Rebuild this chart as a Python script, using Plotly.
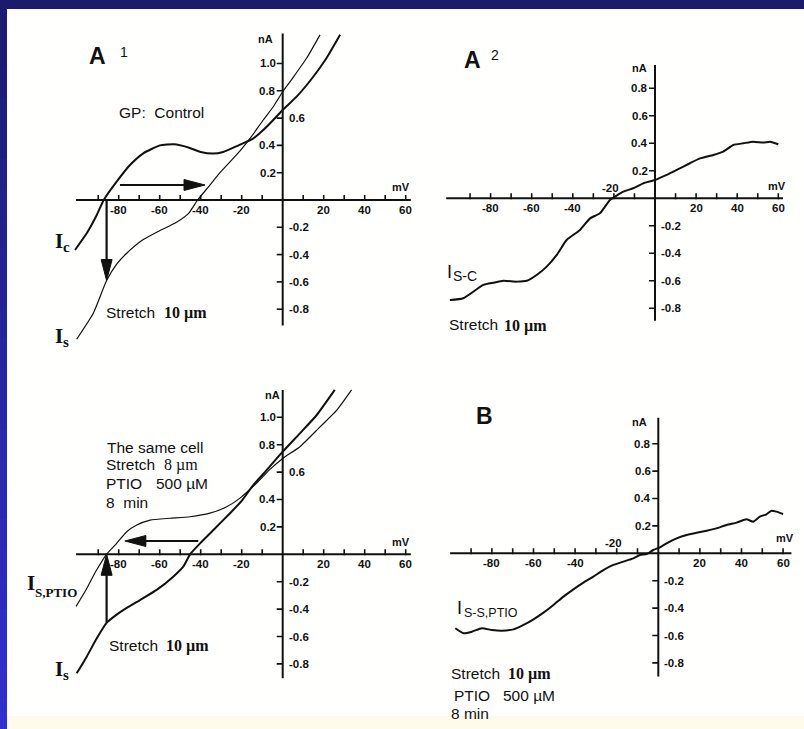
import plotly.graph_objects as go

W, H = 804, 729

# ------------------------------------------------------------------ data
# Panel A1 (top-left): control and stretch currents
A1_IC_MV = [-101.3, -95.6, -90.7, -87.3, -81.0, -74.5, -68.0, -59.9, -53.0, -46.0, -40.0,
            -34.0, -29.0, -22.4, -14.3, -7.8, 0.0, 6.8, 14.9, 21.4, 28.0]
A1_IC_NA = [-0.366, -0.244, -0.11, 0.0, 0.134, 0.256, 0.342, 0.40, 0.408, 0.385, 0.352,
            0.34, 0.352, 0.395, 0.452, 0.537, 0.659, 0.757, 0.903, 1.04, 1.21]
A1_IS_MV = [-100.5, -92.4, -85.9, -81.0, -76.1, -68.0, -60.0, -52.0, -46.0, -41.5, -36.0,
            -30.6, -20.8, -15.3, -9.5, -4.6, 0.0, 5.2, 11.7, 18.2]
A1_IS_NA = [-1.02, -0.83, -0.59, -0.47, -0.39, -0.29, -0.225, -0.165, -0.10, 0.0, 0.10,
            0.20, 0.36, 0.464, 0.586, 0.683, 0.793, 0.90, 1.04, 1.21]

# Panel A2 (top-right): difference current I(S-C)
A2_MV = [-99.8, -93.3, -83.5, -78.7, -73.8, -67.3, -62.4, -57.6, -52.7, -47.8, -43.0,
         -36.5, -31.6, -26.8, -21.9, -15.4, -10.6, -5.7, 0.0, 5.7, 10.6, 17.0, 21.9,
         28.4, 33.2, 38.1, 43.0, 47.8, 52.7, 56.0, 60.0]
A2_NA = [-0.74, -0.727, -0.63, -0.614, -0.60, -0.606, -0.60, -0.558, -0.497, -0.412, -0.303,
         -0.23, -0.146, -0.109, -0.012, 0.048, 0.073, 0.109, 0.133, 0.17, 0.206, 0.255, 0.29,
         0.315, 0.339, 0.388, 0.40, 0.412, 0.405, 0.412, 0.393]

# Panel C (bottom-left): same cell with PTIO
C_IS_MV = [-100.5, -95.6, -90.7, -85.9, -81.0, -77.8, -69.6, -61.5, -53.4, -48.5, -45.2,
           -40.3, -33.8, -25.7, -20.0, -14.3, -7.8, 0.0, 8.4, 16.5, 25.4]
C_IS_NA = [-0.869, -0.747, -0.613, -0.50, -0.44, -0.407, -0.334, -0.26, -0.163, -0.09, 0.0,
           0.08, 0.177, 0.30, 0.39, 0.506, 0.615, 0.749, 0.883, 1.015, 1.20]
C_PTIO_MV = [-100.8, -96.0, -91.0, -85.9, -81.0, -76.1, -71.2, -64.7, -55.0, -45.2, -35.5,
             -27.3, -20.8, -12.7, -6.2, 0.0, 8.4, 18.2, 26.3, 33.6]
C_PTIO_NA = [-0.38, -0.26, -0.12, 0.0, 0.08, 0.165, 0.214, 0.25, 0.263, 0.274, 0.30,
             0.347, 0.41, 0.52, 0.62, 0.70, 0.785, 0.93, 1.05, 1.20]

# Panel B (bottom-right): difference current I(S-S,PTIO)
B_MV = [-97.6, -93.6, -89.6, -84.8, -80.0, -75.2, -69.6, -64.8, -60.0, -55.2, -50.4, -45.6,
        -40.8, -36.0, -31.2, -26.4, -21.6, -16.8, -12.0, -8.8, -5.6, -2.4, 0.8, 4.0, 8.8,
        13.6, 18.4, 23.2, 28.0, 32.8, 37.6, 42.4, 45.6, 48.8, 52.0, 54.4, 56.8, 60.0]
B_NA = [-0.547, -0.584, -0.572, -0.547, -0.56, -0.565, -0.555, -0.523, -0.482, -0.433, -0.377,
        -0.316, -0.263, -0.214, -0.17, -0.122, -0.085, -0.061, -0.037, -0.012, -0.005, 0.024,
        0.044, 0.073, 0.109, 0.134, 0.15, 0.165, 0.182, 0.207, 0.224, 0.248, 0.231, 0.267,
        0.285, 0.311, 0.304, 0.287]

# arrows: (tail mV, tail nA, tip mV, tip nA)
A1_ARROWS = [(-79.4, 0.11, -37.9, 0.11), (-85.9, 0.0, -85.9, -0.59)]
C_ARROWS = [(-41.2, 0.097, -77.0, 0.097), (-85.9, -0.50, -85.9, 0.0)]

# ticks
X_MINOR_TICKS = [-90, -80, -70, -60, -50, -40, -30, -20, -10, 10, 20, 30, 40, 50, 60]
X_TICK_LABELS = [-80, -60, -40, -20, 20, 40, 60]
Y_TICKS_LEFT_PANELS = [1.0, 0.8, 0.6, 0.4, 0.2, -0.2, -0.4, -0.6, -0.8]
Y_TICKS_RIGHT_PANELS = [0.8, 0.6, 0.4, 0.2, -0.2, -0.4, -0.6, -0.8]

# ------------------------------------------------------------------ layout helpers
SANS = "Liberation Sans, Arial, sans-serif"
SERIF = "Liberation Serif, Times New Roman, serif"
INK = "#111111"

panels = [
    dict(n=1, ox=282.7, oy=200.0, sx=2.05, sy=136.5, xr=[-106, 66], yr=[-1.12, 1.32],
         xext=[-100.8, 62.5], yext=[-0.92, 1.22], yright=[0.6], xabove=[], yticks=Y_TICKS_LEFT_PANELS),
    dict(n=2, ox=655.0, oy=198.3, sx=2.055, sy=137.5, xr=[-104, 66], yr=[-1.0, 1.05],
         xext=[-101.6, 62.3], yext=[-0.89, 0.97], yright=[], xabove=[-20], yticks=Y_TICKS_RIGHT_PANELS),
    dict(n=3, ox=282.7, oy=554.3, sx=2.05, sy=137.0, xr=[-106, 66], yr=[-1.0, 1.25],
         xext=[-100.8, 62.5], yext=[-0.905, 1.20], yright=[0.6], xabove=[], yticks=Y_TICKS_LEFT_PANELS),
    dict(n=4, ox=658.3, oy=553.3, sx=2.08, sy=137.0, xr=[-102, 64], yr=[-0.95, 1.0],
         xext=[-100.1, 64.5], yext=[-0.90, 0.99], yright=[], xabove=[-20], yticks=Y_TICKS_RIGHT_PANELS),
]


def px(x):
    return x / W


def py(y):
    return 1 - y / H


fig = go.Figure()
layout = dict(
    width=W, height=H, margin=dict(l=0, r=0, t=0, b=0),
    paper_bgcolor="#fffffd", plot_bgcolor="rgba(0,0,0,0)", showlegend=False,
)
shapes = []
annotations = []
TICK_FONT = dict(family=SANS, size=11.5, color=INK, weight="bold")

for p in panels:
    n = p["n"]
    xs = "" if n == 1 else str(n)
    x0 = (p["ox"] + p["sx"] * p["xr"][0]) / W
    x1 = (p["ox"] + p["sx"] * p["xr"][1]) / W
    ybot = 1 - (p["oy"] - p["sy"] * p["yr"][0]) / H
    ytop = 1 - (p["oy"] - p["sy"] * p["yr"][1]) / H
    layout["xaxis" + xs] = dict(domain=[x0, x1], range=p["xr"], visible=False,
                                anchor="y" + xs, fixedrange=True)
    layout["yaxis" + xs] = dict(domain=[ybot, ytop], range=p["yr"], visible=False,
                                anchor="x" + xs, fixedrange=True)
    p["xref"] = "x" + xs
    p["yref"] = "y" + xs
    # axis lines
    shapes.append(dict(type="line", xref=p["xref"], yref=p["yref"], x0=p["xext"][0], x1=p["xext"][1],
                       y0=0, y1=0, line=dict(color=INK, width=2)))
    shapes.append(dict(type="line", xref=p["xref"], yref=p["yref"], x0=0, x1=0,
                       y0=p["yext"][0], y1=p["yext"][1], line=dict(color=INK, width=2)))
    # tick marks
    tx, ty = [], []
    up, dn = 5 / p["sy"], 1 / p["sy"]
    for t in X_MINOR_TICKS:
        tx += [t, t, None]
        ty += [-dn, up, None]
    lft = 6 / p["sx"]
    for t in p["yticks"]:
        tx += [-lft, 0, None]
        ty += [t, t, None]
    fig.add_trace(go.Scatter(x=tx, y=ty, mode="lines", line=dict(color=INK, width=1.6),
                             xaxis=p["xref"], yaxis=p["yref"], hoverinfo="skip"))
    # x tick labels
    for t in X_TICK_LABELS:
        above = t in p["xabove"]
        annotations.append(dict(xref=p["xref"], yref=p["yref"], x=t, y=0, text=f"{t:d}",
                                showarrow=False, xanchor="center", yanchor="middle",
                                xshift=-3 if above else 0, yshift=10 if above else -10,
                                font=TICK_FONT))
    # y tick labels
    for t in p["yticks"]:
        right = (t < 0) or (t in p["yright"])
        annotations.append(dict(xref=p["xref"], yref=p["yref"], x=0, y=t, text=f"{t:.1f}",
                                showarrow=False, xanchor="left" if right else "right",
                                yanchor="middle", xshift=4 if right else -5,
                                font=TICK_FONT))


def curve(mv, na, p, width):
    fig.add_trace(go.Scatter(x=mv, y=na, mode="lines", xaxis=p["xref"], yaxis=p["yref"],
                             line=dict(color=INK, width=width, shape="spline", smoothing=0.5),
                             hoverinfo="skip"))


def arrow(a, p, head_len=21, half_w=5.5):
    tx0, ty0, tx1, ty1 = a
    if ty0 == ty1:  # horizontal
        d = 1 if tx1 > tx0 else -1
        bx = tx1 - d * head_len / p["sx"]
        hw = half_w / p["sy"]
        shapes.append(dict(type="line", xref=p["xref"], yref=p["yref"], x0=tx0, y0=ty0, x1=bx, y1=ty1,
                           line=dict(color=INK, width=2.2)))
        path = f"M {tx1},{ty1} L {bx},{ty1 + hw} L {bx},{ty1 - hw} Z"
    else:  # vertical
        d = 1 if ty1 > ty0 else -1
        by = ty1 - d * head_len / p["sy"]
        hw = half_w / p["sx"]
        shapes.append(dict(type="line", xref=p["xref"], yref=p["yref"], x0=tx0, y0=ty0, x1=tx1, y1=by,
                           line=dict(color=INK, width=2.2)))
        path = f"M {tx1},{ty1} L {tx1 + hw},{by} L {tx1 - hw},{by} Z"
    shapes.append(dict(type="path", xref=p["xref"], yref=p["yref"], path=path,
                       fillcolor=INK, line=dict(color=INK, width=1)))


pA1, pA2, pC, pB = panels
curve(A1_IC_MV, A1_IC_NA, pA1, 2.0)
curve(A1_IS_MV, A1_IS_NA, pA1, 1.2)
curve(A2_MV, A2_NA, pA2, 2.0)
curve(C_IS_MV, C_IS_NA, pC, 2.0)
curve(C_PTIO_MV, C_PTIO_NA, pC, 1.2)
curve(B_MV, B_NA, pB, 2.0)
for a in A1_ARROWS:
    arrow(a, pA1)
for a in C_ARROWS:
    arrow(a, pC)


def text(x, y, s, size=15.5, family=SANS, anchor="left", bold=False, color=INK):
    annotations.append(dict(xref="paper", yref="paper", x=px(x), y=py(y), text=s, showarrow=False,
                            xanchor=anchor, yanchor="middle",
                            font=dict(family=family, size=size, color=color,
                                      weight="bold" if bold else "normal")))


# axis unit labels
for (xx, yy) in [(265, 39), (639, 68), (272, 395), (639, 422)]:
    text(xx, yy, "nA", size=11, anchor="center", bold=True)
for (xx, yy) in [(401, 187), (777, 186), (401, 542), (785, 538)]:
    text(xx, yy, "mV", size=11, anchor="center", bold=True)

# panel letters
text(97, 56, "A", size=23, anchor="center", bold=True)
text(124, 52, "1", size=14, anchor="center")
text(472, 60, "A", size=23, anchor="center", bold=True)
text(495, 55, "2", size=14, anchor="center")
text(485, 416, "B", size=23, anchor="center", bold=True)


def stretch(x, y, xnum, num="10 µm"):
    text(x, y, "Stretch")
    text(xnum, y + 0.5, num, size=16, family=SERIF, bold=True)


# A1 texts
text(117, 112, "GP:  Control")
stretch(104, 312, 162)
text(53, 241, "I", size=21, family=SERIF, bold=True)
text(61, 247, "c", size=15, family=SERIF, bold=True)
text(53, 336, "I", size=21, family=SERIF, bold=True)
text(61, 342, "s", size=15, family=SERIF, bold=True)

# A2 texts
text(445, 272, "I", size=18)
text(451, 276, "S-C", size=14)
stretch(447, 325, 502)

# C texts
text(105, 447, "The same cell")
text(104, 464, "Stretch")
text(162, 464.5, "8 µm", size=16, family=SERIF)
text(104, 483, "PTIO")
text(154, 483, "500 µM")
text(104, 502, "8  min")
stretch(107, 645, 164)
text(25, 583, "I", size=21, family=SERIF, bold=True)
text(33, 592, "S,PTIO", size=13, family=SERIF, bold=True)
text(53, 669, "I", size=21, family=SERIF, bold=True)
text(61, 675, "s", size=15, family=SERIF, bold=True)

# B texts
text(455, 608, "I", size=18)
text(462, 613, "S-S,PTIO", size=12.5)
stretch(449, 673, 506)
text(452, 695, "PTIO")
text(501, 695, "500 µM")
text(449, 713, "8 min")

# frame decoration: navy top band, blue left band, cream bottom strip
shapes.append(dict(type="rect", xref="paper", yref="paper", x0=0, x1=1, y0=py(716), y1=0,
                   fillcolor="#fffbea", line=dict(width=0), layer="below"))
shapes.append(dict(type="rect", xref="paper", yref="paper", x0=0, x1=1, y0=py(9), y1=1,
                   fillcolor="#1b1b6c", line=dict(width=0)))
NSEG = 24
for i in range(NSEG):
    f = i / (NSEG - 1)
    r = int(0x1c + f * (0x30 - 0x1c))
    g = int(0x1c + f * (0x30 - 0x1c))
    b = int(0x72 + f * (0xcc - 0x72))
    ya = 9 + (H - 9) * i / NSEG
    yb = 9 + (H - 9) * (i + 1) / NSEG
    shapes.append(dict(type="rect", xref="paper", yref="paper", x0=0, x1=px(7), y0=py(yb), y1=py(ya),
                       fillcolor=f"rgb({r},{g},{b})", line=dict(width=0)))

layout["shapes"] = shapes
layout["annotations"] = annotations
fig.update_layout(**layout)
fig.write_html("out.html")
